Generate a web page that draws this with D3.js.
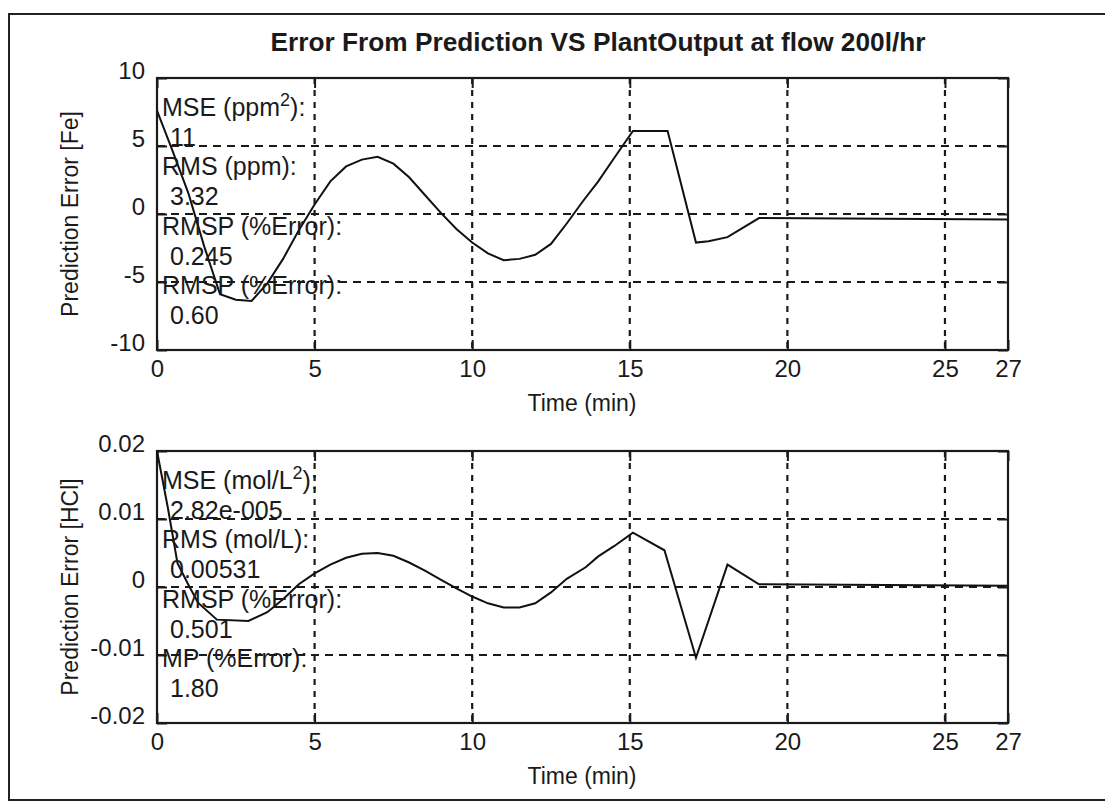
<!DOCTYPE html>
<html>
<head>
<meta charset="utf-8">
<script src="https://cdn.jsdelivr.net/npm/d3@7"></script>
<style>
  body { margin: 0; background: #fff; }
  svg { display: block; }
  .tick text { font-family: "Liberation Sans", Arial, sans-serif; font-size: 24px; fill: #1a1a1a; }
  .note { font-family: "Liberation Sans", Arial, sans-serif; font-size: 25px; fill: #1a1a1a; }
  .lbl { font-family: "Liberation Sans", Arial, sans-serif; font-size: 23px; fill: #1a1a1a; }
</style>
</head>
<body>
<svg width="1105" height="809"></svg>
<script>
// time axis ticks (both plots)
const timeTicks = [0, 5, 10, 15, 20, 25, 27];

// top plot: prediction error of Fe (ppm)
const timeFe = [0, 0.5, 1, 1.5, 2, 2.5, 3, 3.5, 4, 4.5, 5, 5.5, 6, 6.5, 7, 7.5, 8, 8.5, 9, 9.5,
  10, 10.5, 11, 11.5, 12, 12.5, 13, 13.5, 14, 14.5, 15.1, 16.2, 17.1, 17.5, 18.1, 19.1, 27];
const errFe = [7.6, 4.6, 1.5, -2.4, -5.9, -6.3, -6.4, -5.1, -3.3, -1.2, 0.7, 2.4, 3.5, 4.0, 4.2, 3.7, 2.7, 1.4, 0.1, -1.1,
  -2.1, -2.9, -3.4, -3.3, -3.0, -2.2, -0.7, 0.9, 2.4, 4.1, 6.1, 6.1, -2.1, -2.0, -1.7, -0.3, -0.4];
const feTicks = [-10, -5, 0, 5, 10];
const feNotes = ["MSE (ppm|2|):", " 11", "RMS (ppm):", " 3.32", "RMSP (%Error):", " 0.245", "RMSP (%Error):", " 0.60"];

// bottom plot: prediction error of HCl (mol/L)
const timeHCl = [0, 0.35, 0.65, 1, 1.3, 1.9, 2.9, 3.5, 4, 4.5, 5, 5.5, 6, 6.5, 7, 7.5, 8, 8.5, 9, 9.5,
  10, 10.5, 11, 11.5, 12, 12.5, 13, 13.6, 14, 14.5, 15.1, 16.1, 17.1, 18.1, 19.1, 27];
const errHCl = [0.02, 0.0115, 0.0035, 0.0003, -0.0023, -0.0048, -0.005, -0.0037, -0.0018, 0.0004, 0.002, 0.0033, 0.0043, 0.0049, 0.005, 0.0046, 0.0036, 0.0024, 0.0011, -0.0002,
  -0.0014, -0.0024, -0.003, -0.003, -0.0024, -0.0008, 0.0012, 0.0029, 0.0045, 0.006, 0.008, 0.0054, -0.0104, 0.0033, 0.0004, 0.0002];
const hclTicks = [-0.02, -0.01, 0, 0.01, 0.02];
const hclTickLabels = ["-0.02", "-0.01", "0", "0.01", "0.02"];
const hclNotes = ["MSE (mol/L|2|):", " 2.82e-005", "RMS (mol/L):", " 0.00531", "RMSP (%Error):", " 0.501", "MP (%Error):", " 1.80"];

const svg = d3.select("svg");
const left = 157, right = 1008;

// outer frame of the figure
svg.append("rect")
  .attr("x", 9).attr("y", 14).attr("width", 1120).attr("height", 786)
  .attr("fill", "none").attr("stroke", "#222").attr("stroke-width", 2);

svg.append("text")
  .attr("x", 598).attr("y", 51)
  .attr("text-anchor", "middle")
  .attr("textLength", 655).attr("lengthAdjust", "spacingAndGlyphs")
  .style("font-family", "'Liberation Sans Narrow', 'Liberation Sans', Arial, sans-serif")
  .style("font-weight", "bold").style("font-size", "25px").style("fill", "#1a1a1a")
  .text("Error From Prediction VS PlantOutput at flow 200l/hr");

const drawPanel = (top, bottom, times, values, yTicks, yTickLabels, yLabel, notes, noteY0) => {
  let x = d3.scaleLinear().domain([0, 27]).range([left, right]);
  let y = d3.scaleLinear().domain([yTicks[0], yTicks[yTicks.length - 1]]).range([bottom, top]);
  let g = svg.append("g");

  // grid
  g.selectAll(".vgrid")
    .data(timeTicks.filter((t) => t > 0 && t < 27))
    .enter().append("line")
    .attr("x1", (d) => x(d)).attr("x2", (d) => x(d))
    .attr("y1", top).attr("y2", bottom)
    .attr("stroke", "#1a1a1a").attr("stroke-width", 2.2).attr("stroke-dasharray", "6,6");
  g.selectAll(".hgrid")
    .data(yTicks.slice(1, -1))
    .enter().append("line")
    .attr("x1", left).attr("x2", right)
    .attr("y1", (d) => y(d)).attr("y2", (d) => y(d))
    .attr("stroke", "#1a1a1a").attr("stroke-width", 2).attr("stroke-dasharray", "8,6");

  // axes
  let xAxis = d3.axisBottom(x).tickValues(timeTicks).tickFormat(d3.format("d"))
    .tickSizeInner(-10).tickSizeOuter(0).tickPadding(14);
  g.append("g").attr("transform", "translate(0," + bottom + ")").call(xAxis);
  g.append("g").attr("transform", "translate(0," + top + ")")
    .call(d3.axisTop(x).tickValues(timeTicks).tickSizeInner(-10).tickSizeOuter(0).tickFormat(""));

  let yAxis = d3.axisLeft(y).tickValues(yTicks)
    .tickFormat((d, i) => yTickLabels[i]).tickSizeInner(-10).tickSizeOuter(0).tickPadding(12);
  g.append("g").attr("transform", "translate(" + left + ",0)").call(yAxis);
  g.append("g").attr("transform", "translate(" + right + ",0)")
    .call(d3.axisRight(y).tickValues(yTicks).tickSizeInner(-10).tickSizeOuter(0).tickFormat(""));

  g.selectAll(".domain").remove();
  g.selectAll(".tick line").attr("stroke", "#1a1a1a").attr("stroke-width", 2);
  g.selectAll(".tick text").attr("dy", null);
  g.selectAll(".tick text").filter(function () { return this.parentNode.parentNode.getAttribute("transform").includes("translate(0,"); })
    .attr("dy", "0.55em");
  g.append("rect")
    .attr("x", left).attr("y", top).attr("width", right - left).attr("height", bottom - top)
    .attr("fill", "none").attr("stroke", "#1a1a1a").attr("stroke-width", 2.2);

  // series line
  let line = d3.line().x((d) => x(d[0])).y((d) => y(d[1]));
  g.append("path")
    .datum(times.map((t, i) => [t, values[i]]))
    .attr("d", line)
    .attr("fill", "none").attr("stroke", "#111").attr("stroke-width", 2);

  // statistics text
  notes.forEach((n, i) => {
    let parts = n.split("|");
    let t = g.append("text").attr("class", "note")
      .attr("x", n.startsWith(" ") ? 170 : 162).attr("y", noteY0 + i * 29.7);
    t.append("tspan").text(parts[0].trim());
    if (parts.length > 1) {
      t.append("tspan").attr("dy", -10).style("font-size", "18px").text(parts[1]);
      t.append("tspan").attr("dy", 10).text(parts[2]);
    }
  });

  g.append("text").attr("class", "lbl")
    .attr("x", 582).attr("y", bottom + 61)
    .attr("text-anchor", "middle").text("Time (min)");
  g.append("text").attr("class", "lbl")
    .attr("transform", "translate(78," + (top + bottom) / 2 + ") rotate(-90)")
    .attr("text-anchor", "middle").text(yLabel);
};

drawPanel(78, 350, timeFe, errFe, feTicks, feTicks.map(String), "Prediction Error [Fe]", feNotes, 116);
drawPanel(451, 723, timeHCl, errHCl, hclTicks, hclTickLabels, "Prediction Error [HCl]", hclNotes, 489);
</script>
</body>
</html>
